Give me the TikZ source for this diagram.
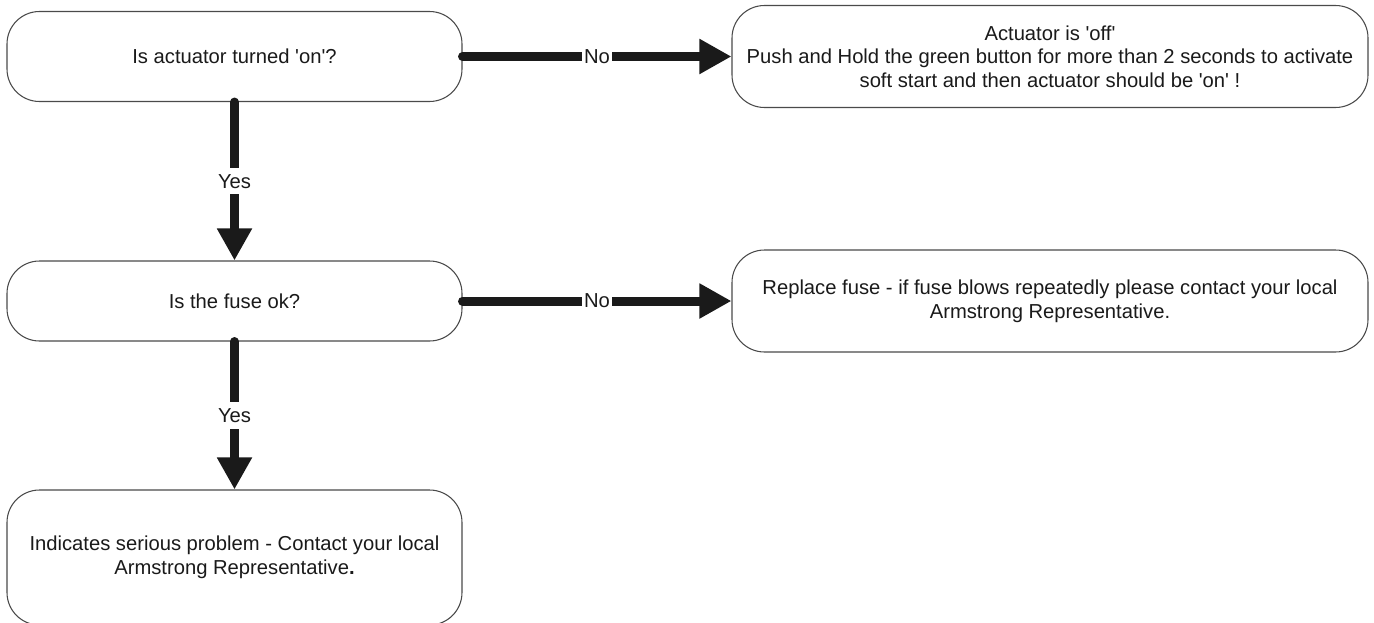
\documentclass[tikz,border=0pt]{standalone}
\usepackage{fontspec}
\setmainfont{Liberation Sans}
\usepackage{tikz}
\usetikzlibrary{positioning,arrows.meta,calc}
\definecolor{ink}     {HTML}{1A1A1A}
\definecolor{frame}   {HTML}{4A4A4A}
\newcommand{\q}{\textquotesingle}
\tikzset{
  every node/.style={font=\fontsize{11.5}{13.4}\selectfont, text=ink},
  % --- nodes
  box/.style   = {rounded corners=0.65cm, draw=frame, fill=white, align=center,
                  inner sep=0pt, line width=0.6pt, minimum width=9.1cm},
  wide/.style  = {box, minimum width=12.72cm, minimum height=2.04cm},
  lbl/.style   = {fill=white, inner xsep=1pt, inner ysep=3.5pt},
  % --- edges
  flow/.style  = {-{Triangle[length=0.64cm,width=0.66cm]}, line width=0.18cm,
                  line cap=round, draw=ink},
}
\begin{document}
\begin{tikzpicture}
  \useasboundingbox (0,0) rectangle (27.48,-12.44);
  \node[box, minimum height=1.8cm] (act) at (4.69,-1.13) {Is actuator turned \q on\q?};
  \node[wide] (off) at (21.0,-1.13) {Actuator is \q off\q\\Push and Hold the green button for more than 2 seconds to activate\\soft start and then actuator should be \q on\q{} !};
  \node[box, minimum height=1.6cm] (fuse) at (4.69,-6.02) {Is the fuse ok?};
  \node[wide] (repl) at (21.0,-6.02) {Replace fuse - if fuse blows repeatedly please contact your local\\Armstrong Representative.};
  \node[box, minimum height=2.7cm] (prob) at (4.69,-11.15) {Indicates serious problem - Contact your local\\Armstrong Representative\textbf{.}};
  \draw[flow] (act.east) -- (off.west) node[midway, lbl] {No};
  \draw[flow] (act.south) -- (fuse.north) node[midway, lbl] {Yes};
  \draw[flow] (fuse.east) -- (repl.west) node[midway, lbl] {No};
  \draw[flow] (fuse.south) -- (prob.north) node[midway, lbl] {Yes};
\end{tikzpicture}
\end{document}
